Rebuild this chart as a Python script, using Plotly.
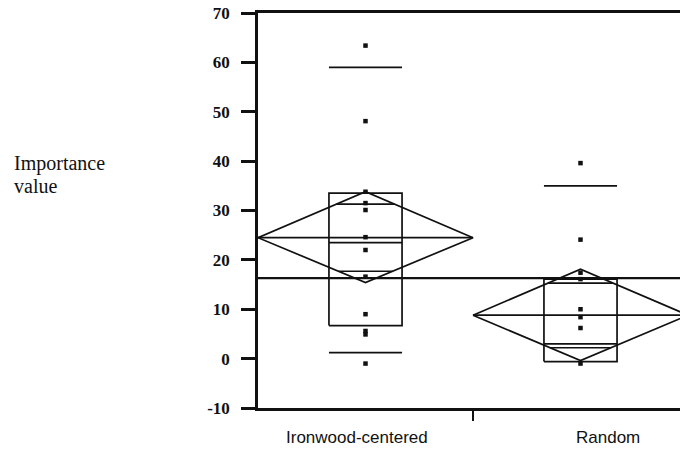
import plotly.graph_objects as go

# Groups and raw importance values
categories = ["Ironwood-centered", "Random"]
ironwood_values = [63.4, 48.1, 33.8, 31.5, 30.1, 24.6, 22.0, 16.6, 9.0, 5.6, 4.9, -1.0]
random_values = [39.6, 24.1, 17.4, 16.1, 10.0, 8.4, 6.2, -1.0]

# Means diamonds: group mean and 95% confidence limits
group_means = [24.5, 8.8]
ci_lower = [15.4, -0.4]
ci_upper = [33.8, 18.1]
overlap_upper = [31.3, 15.3]
overlap_lower = [17.7, 2.2]

# Quantile boxes
q10 = [1.2, None]
q25 = [6.7, -0.6]
q50 = [23.5, 3.0]
q75 = [33.5, 16.1]
q90 = [59.0, 35.0]

grand_mean = 16.3

y_ticks = [-10, 0, 10, 20, 30, 40, 50, 60, 70]
y_tick_text = ["-10", "0", "10", "20", "30", "40", "50", "60", "70"]

INK = "#111111"
DIAMOND_HALF = 0.5
BOX_HALF = 0.17
LW = 1.7

fig = go.Figure()


def add_line(xs, ys, width=LW):
    fig.add_trace(go.Scatter(x=xs, y=ys, mode="lines",
                             line=dict(color=INK, width=width),
                             hoverinfo="skip", showlegend=False))


groups = [ironwood_values, random_values]
for i, vals in enumerate(groups):
    c = i
    m, lo, hi = group_means[i], ci_lower[i], ci_upper[i]
    # diamond outline
    add_line([c - DIAMOND_HALF, c, c + DIAMOND_HALF, c, c - DIAMOND_HALF],
             [m, hi, m, lo, m])
    # mean line across the diamond
    add_line([c - DIAMOND_HALF, c + DIAMOND_HALF], [m, m])
    # overlap marks, spanning the diamond at their level
    for ov, edge in ((overlap_upper[i], hi), (overlap_lower[i], lo)):
        frac = (ov - m) / (edge - m)
        half = DIAMOND_HALF * (1 - frac)
        add_line([c - half, c + half], [ov, ov])
    # quantile box
    add_line([c - BOX_HALF, c + BOX_HALF, c + BOX_HALF, c - BOX_HALF, c - BOX_HALF],
             [q25[i], q25[i], q75[i], q75[i], q25[i]])
    add_line([c - BOX_HALF, c + BOX_HALF], [q50[i], q50[i]])
    for q in (q10[i], q90[i]):
        if q is not None:
            add_line([c - BOX_HALF, c + BOX_HALF], [q, q])
    # data points
    fig.add_trace(go.Scatter(x=[c] * len(vals), y=vals, mode="markers",
                             marker=dict(symbol="square", size=4.5, color=INK),
                             hoverinfo="skip", showlegend=False))

# grand mean across all groups
add_line([-0.5, 1.5], [grand_mean, grand_mean], width=2.2)

left, right, top, bottom = 258, 0, 13, 41
plot_w = 680 - left - right
cat_px = 215
x_range = [-0.5, -0.5 + plot_w / cat_px]

sans = dict(family="Liberation Sans, Arial", size=17, color=INK)
serif_title = dict(family="Liberation Serif, Times New Roman", size=20, color=INK)

annotations = [
    dict(text=categories[0], x=-0.04, xref="x", y=-0.075, yref="paper",
         xanchor="center", yanchor="middle", showarrow=False, font=sans),
    dict(text=categories[1], x=1.128, xref="x", y=-0.075, yref="paper",
         xanchor="center", yanchor="middle", showarrow=False, font=sans),
    dict(text="Importance", x=(12 - left) / plot_w, xref="paper", y=39.6, yref="y",
         xanchor="left", yanchor="middle", showarrow=False, font=serif_title),
    dict(text="value", x=(12 - left) / plot_w, xref="paper", y=34.9, yref="y",
         xanchor="left", yanchor="middle", showarrow=False, font=serif_title),
]

fig.update_layout(
    width=680, height=449,
    margin=dict(l=left, r=right, t=top, b=bottom, pad=0),
    paper_bgcolor="white", plot_bgcolor="white",
    xaxis=dict(range=x_range, showgrid=False, zeroline=False,
               showline=True, mirror=True, linecolor=INK, linewidth=2.5,
               ticks="outside", tickvals=[0.5], ticklen=10, tickwidth=1.5,
               tickcolor=INK, showticklabels=False, fixedrange=True),
    yaxis=dict(range=[-10, 70], showgrid=False, zeroline=False,
               showline=True, linecolor=INK, linewidth=2.5,
               ticks="outside", tickvals=y_ticks, ticktext=y_tick_text,
               ticklen=14, tickwidth=2.5, tickcolor=INK, ticklabelstandoff=8,
               tickfont=dict(family="Liberation Serif, Times New Roman", size=17,
                             color=INK, weight="bold"),
               fixedrange=True),
    annotations=annotations,
)

fig.write_html("out.html")
